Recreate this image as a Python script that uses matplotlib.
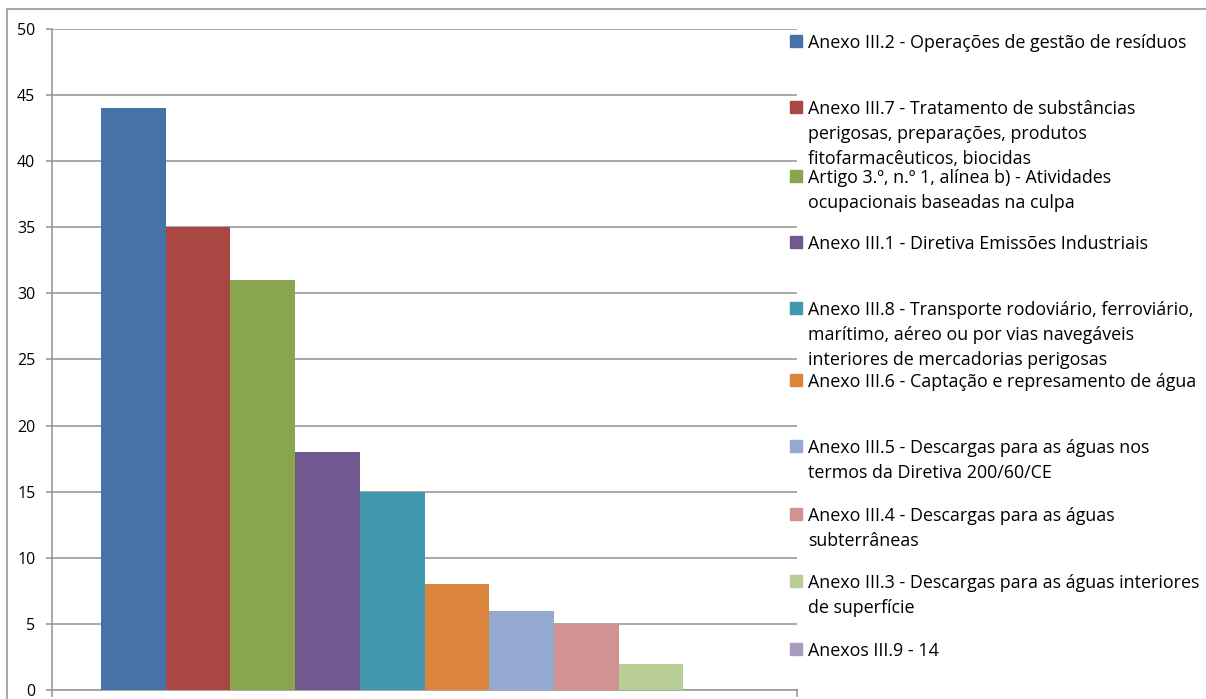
import matplotlib.pyplot as plt
from matplotlib.patches import Rectangle

# Responsabilidade ambiental - ocorrências por anexo
labels = [
    "Anexo III.2 - Operações de gestão de resíduos",
    "Anexo III.7 - Tratamento de substâncias\nperigosas, preparações, produtos\nfitofarmacêuticos, biocidas",
    "Artigo 3.º, n.º 1, alínea b) - Atividades\nocupacionais baseadas na culpa",
    "Anexo III.1 - Diretiva Emissões Industriais",
    "Anexo III.8 - Transporte rodoviário, ferroviário,\nmarítimo, aéreo ou por vias navegáveis\ninteriores de mercadorias perigosas",
    "Anexo III.6 - Captação e represamento de água",
    "Anexo III.5 - Descargas para as águas nos\ntermos da Diretiva 200/60/CE",
    "Anexo III.4 - Descargas para as águas\nsubterrâneas",
    "Anexo III.3 - Descargas para as águas interiores\nde superfície",
    "Anexos III.9 - 14",
]
values = [44, 35, 31, 18, 15, 8, 6, 5, 2, 0]
colors = ["#4572A7", "#AA4643", "#89A54E", "#71588F", "#4198AF",
          "#DB843D", "#93A9CF", "#D19392", "#B9CD96", "#A99BBD"]
yticks = [0, 5, 10, 15, 20, 25, 30, 35, 40, 45, 50]

# first-line position of each legend entry (figure pixels from top)
legend_y = [41, 107, 176, 242, 308, 380, 446, 514, 581, 649]

plt.rcParams['font.family'] = ['Open Sans', 'DejaVu Sans']

W, H = 1206, 699
fig = plt.figure(figsize=(W / 100, H / 100), dpi=100)
ax = fig.add_axes([52 / W, 1 - 690 / H, (797 - 52) / W, (690 - 29) / H])

for i, (v, c) in enumerate(zip(values, colors)):
    ax.bar(i, v, width=1.0, color=c, zorder=3)

ax.set_xlim(-1.257, 10.257)
ax.set_ylim(0, 50)
ax.set_yticks(yticks)
ax.set_yticklabels([str(t) for t in yticks], fontsize=11.5)
ax.set_xticks([])
ax.yaxis.grid(True, color="#999999", linewidth=1.2, zorder=0)
for s in ["top", "right"]:
    ax.spines[s].set_visible(False)
for s in ["left", "bottom"]:
    ax.spines[s].set_color("#999999")
    ax.spines[s].set_linewidth(1.2)
ax.tick_params(axis="y", length=4, color="#999999", width=1.2, pad=8)

# small tick marks below the category axis at both ends
for xp in (52, 797):
    fig.add_artist(plt.Line2D([xp / W, xp / W], [1 - 690 / H, 1 - 696 / H],
                              color="#999999", linewidth=1.2))

# outer chart border
fig.add_artist(Rectangle((7 / W, -0.01), 1.01, 1 - 9 / H + 0.01,
                         transform=fig.transFigure, fill=False,
                         edgecolor="#999999", linewidth=1.2))

# legend drawn by hand so entries keep fixed spacing
for lab, c, y in zip(labels, colors, legend_y):
    fig.add_artist(Rectangle((790 / W, 1 - (y + 6) / H), 12 / W, 12 / H,
                             transform=fig.transFigure, color=c))
    fig.text(808 / W, 1 - (y - 7) / H, lab, fontsize=12.9, va="top",
             ha="left", linespacing=1.5)

fig.savefig("out.png", dpi=100)
